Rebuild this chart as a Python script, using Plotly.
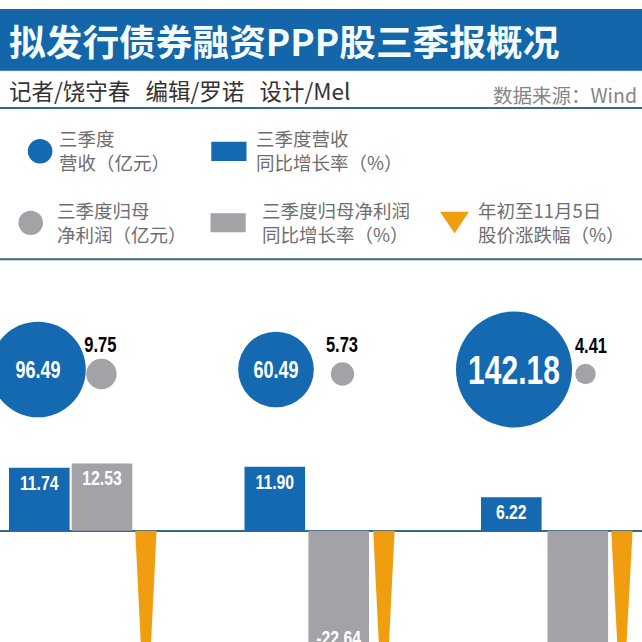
import plotly.graph_objects as go

# company slots, the names are cut off in the picture
slots = [0, 1, 2]

revenue = [96.49, 60.49, 142.18]
profit = [9.75, 5.73, 4.41]
revenue_growth = [11.74, 11.90, 6.22]
profit_growth = [12.53, -22.64, -30.0]      # third one runs off the picture, estimated
price_change = [-40.0, -40.0, -37.0]        # tips are cut off, estimated from the taper

revenue_growth_labels = ["11.74", "11.90", "6.22"]
profit_growth_labels = ["12.53", "-22.64", ""]
revenue_labels = ["96.49", "60.49", "142.18"]
profit_labels = ["9.75", "5.73", "4.41"]

SIZE = 642
BLUE = "#1469B1"
GRAY = "#A3A2A6"
ORANGE = "#F09E10"
RULE = "#35688A"
LEGEND_TEXT = "#6E6E6E"
CJK = "Noto Sans CJK SC"
NUM = "Liberation Sans"

# pixel scale of the picture
SLOT_PX = 238.0
SLOT0_PX = 38.0
ZERO_PX = 530.7
PX_PER_UNIT = 5.37


def dx(px):
    return px / SLOT_PX


def ypos(px):
    return (ZERO_PX - px) / PX_PER_UNIT


def px_x(px):
    return px / SIZE


def px_y(px):
    return 1 - px / SIZE


fig = go.Figure()

# growth bars
fig.add_trace(go.Bar(x=slots, y=revenue_growth, width=dx(60.6),
                     offset=[dx(-29), dx(-31.5), dx(-33)],
                     marker=dict(color=BLUE, line=dict(width=0)),
                     text=revenue_growth_labels, textposition="inside",
                     textangle=0, constraintext="none",
                     textfont=dict(family=NUM, size=21, color="white", weight="bold")))
fig.add_trace(go.Bar(x=slots, y=profit_growth, width=dx(60.6),
                     offset=[dx(33.7), dx(32.4), dx(33.5)],
                     marker=dict(color=GRAY, line=dict(width=0)),
                     text=profit_growth_labels, textposition="inside",
                     textangle=0, constraintext="none",
                     textfont=dict(family=NUM, size=21, color="white", weight="bold")))

# year to date change, thin triangles hanging from the zero line
tri_x = []
tri_y = []
for slot, change in zip(slots, price_change):
    tri_x += [slot + dx(97.2), slot + dx(118.6), slot + dx(107.9), None]
    tri_y += [0, 0, change, None]
fig.add_trace(go.Scatter(x=tri_x, y=tri_y, mode="lines", fill="toself",
                         fillcolor=ORANGE, line=dict(width=0), hoverinfo="skip"))

# bubbles, area follows the value
BUBBLE_REF = 2 / 9.73 ** 2
fig.add_trace(go.Scatter(x=slots, y=[ypos(369.5)] * 3, mode="markers",
                         marker=dict(size=revenue, sizemode="area", sizeref=BUBBLE_REF,
                                     color=BLUE, opacity=1, line=dict(width=0))))
fig.add_trace(go.Scatter(x=slots, y=[ypos(372), ypos(372), ypos(374)], mode="text",
                         text=revenue_labels, textposition="middle center",
                         textfont=dict(family=NUM, size=[24, 24, 40], color="white",
                                       weight="bold")))
profit_x = [s + dx(o) for s, o in zip(slots, [63.4, 66.5, 71.5])]
fig.add_trace(go.Scatter(x=profit_x, y=[ypos(374)] * 3, mode="markers",
                         marker=dict(size=profit, sizemode="area", sizeref=BUBBLE_REF,
                                     color=GRAY, opacity=1, line=dict(width=0))))
label_x = [s + dx(o) for s, o in zip(slots, [62.3, 66, 77])]
fig.add_trace(go.Scatter(x=label_x, y=[ypos(347), ypos(347), ypos(348)], mode="text",
                         text=profit_labels, textposition="middle center",
                         textfont=dict(family=NUM, size=22, color="black", weight="bold")))

shapes = [
    dict(type="rect", x0=0, x1=1, y0=px_y(70.7), y1=px_y(9), fillcolor="#1266A9"),
    dict(type="line", x0=0, x1=1, y0=px_y(108), y1=px_y(108),
         line=dict(color=RULE, width=2)),
    dict(type="line", x0=0, x1=1, y0=px_y(259.3), y1=px_y(259.3),
         line=dict(color=RULE, width=2)),
    dict(type="circle", x0=px_x(27.8), x1=px_x(52.4), y0=px_y(163.5), y1=px_y(139),
         fillcolor=BLUE),
    dict(type="rect", x0=px_x(211.3), x1=px_x(246.5), y0=px_y(161), y1=px_y(141.7),
         fillcolor=BLUE),
    dict(type="circle", x0=px_x(18.4), x1=px_x(43), y0=px_y(235), y1=px_y(210.7),
         fillcolor=GRAY),
    dict(type="rect", x0=px_x(210.5), x1=px_x(245.7), y0=px_y(232.3), y1=px_y(213.3),
         fillcolor=GRAY),
    dict(type="path",
         path=f"M {px_x(440)} {px_y(211.7)} L {px_x(469)} {px_y(211.7)} "
              f"L {px_x(454.5)} {px_y(233.3)} Z",
         fillcolor=ORANGE),
]
for s in shapes:
    s.update(xref="paper", yref="paper", layer="below")
    if s["type"] != "line":
        s["line"] = dict(width=0)


def note(text, x, y, size, color, family=CJK, anchor="left", **font):
    return dict(text=text, x=px_x(x), y=px_y(y), xref="paper", yref="paper",
                xanchor=anchor, yanchor="middle", align="left", showarrow=False,
                borderpad=0, font=dict(family=family, size=size, color=color, **font))


annotations = [
    note("拟发行债券融资PPP股三季报概况", 8, 40, 36.7, "#F4FBFD", weight="bold"),
    note("记者/饶守春\u00a0\u00a0\u00a0编辑/罗诺\u00a0\u00a0\u00a0设计/Mel", 8, 90, 22.5, "#333333"),
    note("数据来源：Wind", 638, 95, 19.5, "#858585", anchor="right"),
    note("三季度<br>营收（亿元）", 58, 150, 18.5, LEGEND_TEXT),
    note("三季度营收<br>同比增长率（%）", 254.5, 150, 18.5, LEGEND_TEXT),
    note("三季度归母<br>净利润（亿元）", 55.5, 222, 18.5, LEGEND_TEXT),
    note("三季度归母净利润<br>同比增长率（%）", 260.5, 222, 18.5, LEGEND_TEXT),
    note("年初至11月5日<br>股价涨跌幅（%）", 477, 222, 18.5, LEGEND_TEXT),
]

fig.update_layout(
    width=SIZE, height=SIZE,
    margin=dict(l=0, r=0, t=0, b=0),
    paper_bgcolor="white", plot_bgcolor="rgba(0,0,0,0)",
    barmode="overlay", showlegend=False,
    shapes=shapes, annotations=annotations,
    xaxis=dict(visible=False, range=[-SLOT0_PX / SLOT_PX, (SIZE - SLOT0_PX) / SLOT_PX]),
    yaxis=dict(range=[ypos(SIZE), ypos(0)], showgrid=False, showticklabels=False,
               ticks="", zeroline=True, zerolinecolor=RULE, zerolinewidth=1.5),
)

# no condensed font here, so squeeze the number labels sideways around their centres
squeeze = """
document.body.style.margin = '0';
document.querySelectorAll('.bartext, .textpoint text').forEach(function (t) {
    var r = t.getBoundingClientRect();
    var cx = r.left + r.width / 2;
    var old = t.getAttribute('transform') || '';
    t.setAttribute('transform', 'translate(' + cx + ',0) scale(0.75,1) translate(' + (-cx) + ',0) ' + old);
});
"""

fig.write_html("out.html", config={"displayModeBar": False}, post_script=squeeze)
